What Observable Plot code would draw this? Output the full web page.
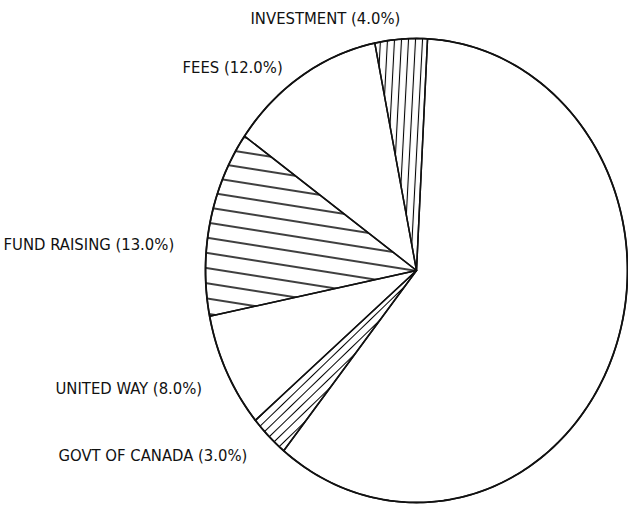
<!DOCTYPE html>
<html><head><meta charset="utf-8">
<script src="https://cdn.jsdelivr.net/npm/d3@7"></script>
<script src="https://cdn.jsdelivr.net/npm/@observablehq/plot@0.6"></script>
<style>html,body{margin:0;padding:0;background:#fff}</style>
</head><body>
<svg width="0" height="0" style="position:absolute"><defs>
<pattern id="hInv" patternUnits="userSpaceOnUse" width="7" height="20" patternTransform="rotate(3)"><line x1="3.5" y1="-2" x2="3.5" y2="22" stroke="#000" stroke-width="1.1"/></pattern>
<pattern id="hFund" patternUnits="userSpaceOnUse" width="40" height="15" patternTransform="rotate(9)"><line x1="-2" y1="7" x2="42" y2="7" stroke="#000" stroke-width="1.4"/></pattern>
<pattern id="hGovt" patternUnits="userSpaceOnUse" width="20" height="7" patternTransform="rotate(-44)"><line x1="-2" y1="3.5" x2="22" y2="3.5" stroke="#000" stroke-width="1"/></pattern>
</defs></svg>
<div id="chart"></div>
<script>
// Data (clockwise from the top)
const categories = ["", "GOVT OF CANADA", "UNITED WAY", "FUND RAISING", "FEES", "INVESTMENT"];
const shares = [60, 3, 8, 13, 12, 4];

// Styles / layout (kept separate from data)
const sliceFills = ["none", "url(#hGovt)", "none", "url(#hFund)", "none", "url(#hInv)"];
const startDeg = 3;
const W = 628, H = 506;
const xRange = [205, 627], yRange = [502, 38];
const labelPx = [null, [58, 455], [55, 388], [3, 244], [182, 67], [250, 18]];

// Build slice polygons from shares
const total = d3.sum(shares);
const slices = [];
let acc = startDeg;
shares.forEach((v, i) => {
  const a0 = acc, a1 = acc + v / total * 360;
  acc = a1;
  const pts = [{i, x: 0, y: 0}];
  const n = Math.max(4, Math.ceil((a1 - a0) / 1.5));
  for (let k = 0; k <= n; k++) {
    const a = (a0 + (a1 - a0) * k / n) * Math.PI / 180;
    pts.push({i, x: Math.sin(a), y: Math.cos(a)});
  }
  pts.push({i, x: 0, y: 0});
  slices.push(pts);
});

const xs = d3.scaleLinear().domain(xRange).range([-1, 1]);
const ys = d3.scaleLinear().domain(yRange).range([-1, 1]);
const labels = categories.map((c, i) => c ? {
  text: `${c} (${shares[i].toFixed(1)}%)`,
  x: xs(labelPx[i][0]), y: ys(labelPx[i][1])
} : null).filter(Boolean);

const marks = slices.map((pts, i) => Plot.line(pts, {
  x: "x", y: "y", fill: sliceFills[i], stroke: "#111", strokeWidth: 1.5, curve: "linear"
}));
// outer outline
const ring = d3.range(0, 361, 1).map(a => ({x: Math.sin(a * Math.PI / 180), y: Math.cos(a * Math.PI / 180)}));
marks.push(Plot.line(ring, {x: "x", y: "y", stroke: "#111", strokeWidth: 1.8}));
marks.push(Plot.text(labels, {
  x: "x", y: "y", text: "text", textAnchor: "start", fill: "#111",
  fontSize: 16.5, fontFamily: "'Liberation Sans Narrow', 'DejaVu Sans Condensed', 'Liberation Sans', sans-serif"
}));

const chart = Plot.plot({
  width: W, height: H, margin: 0,
  x: {domain: [-1, 1], range: xRange, axis: null},
  y: {domain: [-1, 1], range: yRange, axis: null},
  style: {background: "#fff", overflow: "visible"},
  marks
});
document.getElementById("chart").appendChild(chart);
</script>
</body></html>
